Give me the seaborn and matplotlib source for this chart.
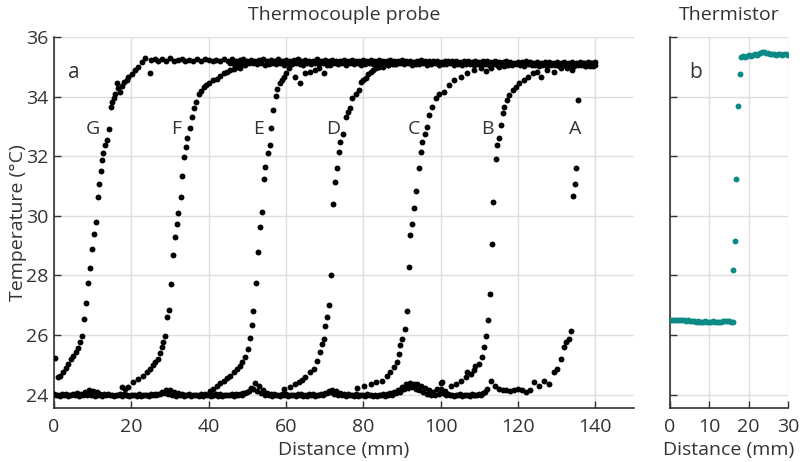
import numpy as np
import pandas as pd
import seaborn as sns
import matplotlib.pyplot as plt

# --- thermocouple probe: baseline band (two overlapping sweep rows, 1 mm steps) ---
base_x_a = np.arange(0, 124)
base_temp_a = [
    24.02, 24.00, 24.03, 24.01, 24.00, 24.02, 24.04, 24.03,
    24.10, 24.14, 24.12, 24.08,
    24.03, 24.01, 24.02, 24.00, 23.99, 24.01, 24.02, 24.00, 23.98, 24.00, 24.01, 23.99, 24.00, 24.02, 24.01, 24.03,
    24.08, 24.14, 24.16, 24.10,
    24.04, 24.02, 24.00, 24.01, 23.99, 24.00, 24.02, 24.01, 23.99, 24.00, 24.02, 24.01, 24.00, 23.99, 24.01, 24.03, 24.02, 24.05,
    24.10, 24.22, 24.40, 24.30, 24.15, 24.06,
    24.03, 24.01, 24.00, 24.02, 24.01, 23.99, 24.00, 24.02, 24.01, 24.00, 24.02, 24.01, 24.00, 24.03, 24.06,
    24.12, 24.17, 24.12, 24.06,
    24.03, 24.01, 24.00, 24.02, 23.99, 24.00, 24.01, 23.99, 23.98, 24.00, 24.01, 24.02, 24.04, 24.08, 24.14,
    24.25, 24.35, 24.38, 24.34, 24.36, 24.30, 24.22, 24.15, 24.08,
    24.20, 24.38, 24.12,
    24.03, 24.00, 23.99, 24.01, 23.98, 24.00, 24.02, 23.99, 24.01, 24.04, 24.20,
    24.45, 24.28,
    24.18, 24.14, 24.16, 24.12, 24.15, 24.20, 24.14, 24.10, 24.16,
]
base_x_b = np.arange(0.5, 112, 1.0)
base_temp_b = [
    23.97, 23.95, 23.98, 23.96, 23.97, 23.99, 23.96, 23.98, 24.00, 23.97,
    23.96, 23.98, 23.95, 23.97, 23.99, 23.96, 23.97, 23.95, 23.98, 23.96,
    23.97, 23.95, 23.96, 23.98, 23.96, 23.97, 23.99, 24.02, 24.05, 24.03,
    23.99, 23.96, 23.97, 23.95, 23.98, 23.96, 23.97, 23.95, 23.96, 23.98,
    23.96, 23.97, 23.95, 23.96, 23.98, 23.97, 23.96, 23.98, 24.00, 24.05,
    24.12, 24.20, 24.12, 24.04, 23.99, 23.97, 23.96, 23.98, 23.96, 23.97,
    23.95, 23.97, 23.96, 23.98, 23.96, 23.95, 23.97, 23.96, 23.98, 24.00,
    24.04, 24.08, 24.03, 23.99, 23.97, 23.96, 23.98, 23.96, 23.95, 23.97,
    23.96, 23.98, 23.96, 23.95, 23.97, 23.96, 23.98, 24.00, 24.04, 24.10,
    24.18, 24.22, 24.26, 24.20, 24.14, 24.08, 24.03, 24.00, 23.98, 24.02,
    24.06, 24.00, 23.97, 23.96, 23.98, 23.95, 23.97, 23.96, 23.98, 23.97,
    24.00, 24.08,
]

# --- plateau band ---
plat_x_a = np.arange(25, 141)
plat_temp_a = [
    35.22, 35.27, 35.18, 35.25, 35.21, 35.28, 35.19, 35.24, 35.26, 35.20,
    35.23, 35.18, 35.25, 35.21, 35.27, 35.22, 35.19, 35.24, 35.20, 35.26,
    35.21, 35.25, 35.19, 35.23, 35.27, 35.20, 35.24, 35.18, 35.22, 35.25,
    35.20, 35.23, 35.19, 35.26, 35.21, 35.24, 35.18, 35.22, 35.25, 35.20,
    35.23, 35.19, 35.21, 35.25, 35.20, 35.22, 35.18, 35.24, 35.21, 35.19,
    35.22, 35.20, 35.24, 35.19, 35.21, 35.23, 35.18, 35.22, 35.20, 35.24,
    35.19, 35.21, 35.23, 35.18, 35.20, 35.22, 35.19, 35.21, 35.17, 35.20,
    35.22, 35.18, 35.20, 35.19, 35.21, 35.17, 35.20, 35.18, 35.21, 35.19,
    35.17, 35.20, 35.18, 35.16, 35.19, 35.17, 35.20, 35.18, 35.16, 35.19,
    35.17, 35.15, 35.18, 35.16, 35.14, 35.17, 35.15, 35.18, 35.16, 35.14,
    35.16, 35.14, 35.17, 35.15, 35.13, 35.16, 35.14, 35.15, 35.13, 35.16,
    35.14, 35.16, 35.13, 35.15, 35.14, 35.16,
]
plat_x_b = np.arange(45.5, 140, 1.0)
plat_temp_b = [
    35.12, 35.08, 35.14, 35.10, 35.06, 35.11, 35.13, 35.09, 35.12, 35.07,
    35.10, 35.13, 35.08, 35.11, 35.06, 35.12, 35.09, 35.14, 35.10, 35.07,
    35.11, 35.08, 35.13, 35.09, 35.12, 35.06, 35.10, 35.13, 35.08, 35.11,
    35.07, 35.12, 35.09, 35.11, 35.06, 35.10, 35.13, 35.08, 35.11, 35.09,
    35.12, 35.07, 35.10, 35.08, 35.13, 35.09, 35.11, 35.06, 35.10, 35.08,
    35.11, 35.07, 35.09, 35.12, 35.06, 35.10, 35.08, 35.11, 35.07, 35.09,
    35.06, 35.10, 35.08, 35.05, 35.09, 35.07, 35.10, 35.06, 35.08, 35.05,
    35.08, 35.04, 35.07, 35.05, 35.09, 35.06, 35.04, 35.08, 35.05, 35.07,
    35.04, 35.06, 35.03, 35.07, 35.05, 35.02, 35.06, 35.04, 35.07, 35.03,
    35.05, 35.08, 35.04, 35.06, 35.03,
]

# --- transitions of each sweep (A-G) ---
g_x = [0.3, 1.1, 1.6, 2.4, 3.0, 3.7, 4.3, 5.0, 5.6, 6.3, 6.8, 7.2, 7.7, 8.2, 8.7, 9.2, 9.8, 10.3,
       10.8, 11.3, 11.7, 12.1, 12.4, 12.8, 13.2, 13.8, 14.3, 14.7, 14.9, 15.4, 15.8, 16.2, 16.6,
       17.1, 17.6, 18.2, 18.8, 19.2, 20.1, 21.0, 21.8, 22.7, 23.6, 24.9]
g_temp = [25.24, 24.58, 24.62, 24.75, 24.90, 25.04, 25.18, 25.31, 25.42, 25.55, 25.75, 25.98,
          26.52, 27.07, 27.74, 28.25, 28.87, 29.38, 29.79, 30.63, 31.08, 31.50, 31.87, 32.10,
          32.37, 32.54, 32.90, 33.64, 33.83, 33.94, 34.10, 34.44, 34.30, 34.16, 34.35, 34.50,
          34.55, 34.67, 34.75, 34.90, 35.00, 35.17, 35.28, 34.78]

f_x = [17.5, 18.3, 19.2, 20.5, 21.8, 23.1, 24.0, 24.9, 25.6, 26.2, 27.0, 27.5, 27.9, 28.3, 28.8,
       29.2, 29.7, 30.2, 30.7, 31.2, 31.7, 32.2, 32.8, 33.2, 33.7, 34.1, 34.4, 35.1, 35.7, 36.3,
       36.8, 37.4, 38.0, 38.7, 39.3, 40.0, 41.0, 42.1, 43.0, 43.9, 44.8, 45.6, 46.5, 47.3, 48.2, 49.0]
f_temp = [24.25, 24.20, 24.25, 24.42, 24.53, 24.64, 24.75, 24.87, 24.98, 25.09, 25.20, 25.40,
          25.59, 25.76, 25.98, 26.60, 26.85, 27.70, 28.67, 29.29, 29.71, 30.10, 30.63, 31.34,
          31.98, 32.31, 32.60, 32.93, 33.30, 33.60, 33.83, 34.10, 34.20, 34.33, 34.40, 34.44,
          34.55, 34.60, 34.70, 34.78, 34.82, 34.89, 34.92, 35.00, 34.95, 35.10]

e_x = [40.4, 41.2, 42.1, 43.0, 43.9, 44.8, 45.6, 46.5, 47.3, 48.0, 48.6, 49.5, 50.3, 50.8, 51.2,
       51.6, 52.2, 52.7, 53.2, 53.7, 54.2, 54.7, 55.3, 55.8, 56.1, 56.6, 57.3, 57.7, 58.4, 58.9,
       59.4, 60.0, 60.7, 61.1, 62.4, 63.7, 65.0, 66.3, 67.6, 68.5, 69.8, 71.5, 73.2]
e_temp = [24.13, 24.20, 24.30, 24.38, 24.47, 24.55, 24.64, 24.75, 24.86, 24.97, 25.09, 25.26,
          25.54, 25.90, 26.32, 26.82, 27.76, 28.78, 29.61, 30.13, 31.25, 31.64, 32.09, 32.37,
          32.96, 33.55, 34.02, 34.24, 34.44, 34.55, 34.67, 34.80, 34.95, 35.12, 34.67, 34.44,
          34.78, 34.84, 34.89, 34.95, 34.78, 35.06, 35.12]

d_x = [59.4, 61.1, 62.3, 63.3, 64.2, 65.0, 66.3, 67.2, 68.1, 68.7, 69.3, 69.8, 70.2, 70.6, 71.2,
       71.7, 72.2, 72.8, 73.2, 73.6, 74.1, 74.8, 75.4, 76.0, 76.5, 77.1, 78.0, 78.8, 79.3, 80.0,
       80.6, 81.3, 81.9, 82.5, 83.2, 84.0, 85.2, 86.5, 88.0]
d_temp = [24.19, 24.25, 24.35, 24.42, 24.50, 24.58, 24.75, 24.86, 25.14, 25.42, 25.70, 25.87,
          26.29, 26.62, 27.00, 28.02, 30.41, 31.14, 31.59, 32.14, 32.48, 32.74, 33.30, 33.49,
          33.60, 33.94, 34.10, 34.22, 34.50, 34.55, 34.61, 34.75, 34.84, 34.88, 34.95, 35.00,
          34.98, 35.05, 35.08]

c_x = [78.4, 80.1, 81.9, 83.2, 84.9, 86.2, 87.0, 87.9, 88.6, 89.2, 89.6, 90.1, 90.7, 91.2, 91.7,
       92.2, 92.7, 93.2, 93.7, 94.3, 94.8, 95.3, 95.9, 96.4, 97.0, 97.8, 98.7, 99.6, 100.9, 102.1,
       103.4, 105.2, 106.9, 108.6, 110.4, 111.7, 113.0, 115.0, 117.0]
c_temp = [24.23, 24.30, 24.36, 24.42, 24.47, 24.64, 24.75, 24.92, 25.09, 25.37, 25.65, 25.87,
          26.21, 26.80, 28.27, 29.37, 29.74, 30.26, 30.82, 31.60, 32.14, 32.48, 32.74, 32.99,
          33.38, 33.66, 33.94, 34.10, 34.16, 34.39, 34.55, 34.67, 34.78, 34.89, 34.95, 34.85,
          34.95, 35.00, 35.05]

b_x = [100.0, 100.4, 102.6, 103.9, 105.2, 106.5, 106.9, 107.8, 108.6, 109.0, 109.9, 110.8, 111.2,
       111.7, 112.2, 112.7, 113.2, 113.6, 114.2, 114.7, 115.1, 115.5, 116.0, 116.4, 117.1, 117.7,
       118.6, 119.4, 120.3, 121.6, 122.5, 123.8, 125.0, 125.9, 127.6, 129.4, 131.1, 132.8, 134.0]
b_temp = [24.19, 24.42, 24.30, 24.36, 24.47, 24.58, 24.75, 24.70, 24.81, 24.97, 25.03, 25.26,
          25.59, 25.98, 26.51, 27.36, 29.04, 30.46, 31.92, 32.37, 32.60, 33.04, 33.44, 33.66,
          33.88, 34.05, 34.22, 34.33, 34.44, 34.55, 34.67, 34.78, 34.84, 34.67, 34.89, 34.84,
          34.95, 34.95, 34.90]

a_x = [124.2, 125.5, 126.8, 128.1, 129.4, 130.2, 131.1, 131.9, 132.5, 133.1, 133.7, 134.2, 134.7,
       135.1, 135.6, 136.2, 136.8, 137.4, 138.0, 138.6, 139.2, 139.8]
a_temp = [24.42, 24.30, 24.47, 24.36, 24.75, 24.86, 25.20, 25.59, 25.75, 25.87, 26.15, 30.67,
          31.08, 31.59, 33.90, 35.05, 35.12, 35.02, 35.10, 35.04, 35.11, 35.06]

curve_labels = ["G", "F", "E", "D", "C", "B", "A"]
label_x = [10.1, 31.6, 52.8, 72.3, 93.0, 112.0, 134.7]

# --- thermistor ---
therm_base_x = np.arange(0, 16.5, 0.5)
therm_base_temp = [26.50, 26.50, 26.49, 26.50, 26.50, 26.49, 26.50, 26.49, 26.48, 26.49, 26.48,
                   26.47, 26.46, 26.45, 26.46, 26.45, 26.44, 26.45, 26.46, 26.45, 26.44, 26.45,
                   26.46, 26.44, 26.45, 26.43, 26.45, 26.46, 26.47, 26.48, 26.46, 26.44, 26.43]
therm_rise_x = [16.0, 16.5, 16.9, 17.4, 17.9]
therm_rise_temp = [28.19, 29.15, 31.23, 33.67, 34.76]
therm_top_x = np.arange(18.0, 30.5, 0.5)
therm_top_temp = [35.33, 35.35, 35.34, 35.36, 35.38, 35.37, 35.40, 35.42, 35.41, 35.44, 35.46,
                  35.48, 35.49, 35.47, 35.45, 35.43, 35.42, 35.43, 35.41, 35.42, 35.43, 35.41,
                  35.42, 35.43, 35.41]

probe = pd.concat([
    pd.DataFrame({"distance": base_x_a, "temp": base_temp_a}),
    pd.DataFrame({"distance": base_x_b, "temp": base_temp_b}),
    pd.DataFrame({"distance": plat_x_a, "temp": plat_temp_a}),
    pd.DataFrame({"distance": plat_x_b, "temp": plat_temp_b}),
    pd.DataFrame({"distance": g_x, "temp": g_temp}),
    pd.DataFrame({"distance": f_x, "temp": f_temp}),
    pd.DataFrame({"distance": e_x, "temp": e_temp}),
    pd.DataFrame({"distance": d_x, "temp": d_temp}),
    pd.DataFrame({"distance": c_x, "temp": c_temp}),
    pd.DataFrame({"distance": b_x, "temp": b_temp}),
    pd.DataFrame({"distance": a_x, "temp": a_temp}),
], ignore_index=True)

thermistor = pd.concat([
    pd.DataFrame({"distance": therm_base_x, "temp": therm_base_temp}),
    pd.DataFrame({"distance": therm_rise_x, "temp": therm_rise_temp}),
    pd.DataFrame({"distance": therm_top_x, "temp": therm_top_temp}),
], ignore_index=True)

sns.set_theme(style="ticks")
plt.rcParams["font.family"] = ["Open Sans", "DejaVu Sans"]
text_col = "#333333"
plt.rcParams.update({
    "text.color": text_col, "axes.labelcolor": text_col,
    "xtick.color": text_col, "ytick.color": text_col,
    "axes.edgecolor": text_col,
})

fig = plt.figure(figsize=(8.02, 4.62), dpi=100)
ax1 = fig.add_axes([0.0673, 0.1169, 0.7232, 0.8031])
ax2 = fig.add_axes([0.8354, 0.1169, 0.1471, 0.8031])

for ax in (ax1, ax2):
    ax.grid(True, color="#dedede", linewidth=1)
    ax.set_axisbelow(True)
    ax.spines["top"].set_visible(False)
    ax.spines["right"].set_visible(False)
    ax.spines["left"].set_linewidth(1.2)
    ax.spines["bottom"].set_linewidth(1.2)
    ax.tick_params(direction="in", length=5, width=1, labelsize=14)
    ax.tick_params(axis="x", pad=7)
    ax.tick_params(axis="y", pad=4)
    ax.set_ylim(23.55, 36)
    ax.set_yticks(range(24, 37, 2))

sns.scatterplot(data=probe, x="distance", y="temp", ax=ax1, color="black",
                s=18, linewidth=0, zorder=3)
ax1.set_xlim(0, 150)
ax1.set_xticks(range(0, 141, 20))
ax1.set_xlabel("Distance (mm)", fontsize=14, labelpad=4)
ax1.set_ylabel("Temperature (°C)", fontsize=14, labelpad=-1)
ax1.set_title("Thermocouple probe", fontsize=14, pad=12)
ax1.text(0.025, 0.905, "a", transform=ax1.transAxes, fontsize=15, va="center")
for lab, lx in zip(curve_labels, label_x):
    ax1.text(lx, 32.9, lab, fontsize=14, ha="center", va="center")

sns.scatterplot(data=thermistor, x="distance", y="temp", ax=ax2, color="#0b8a86",
                s=18, linewidth=0, zorder=3)
ax2.set_xlim(0, 30)
ax2.set_xticks([0, 10, 20, 30])
ax2.set_yticklabels([])
ax2.set_xlabel("Distance (mm)", fontsize=14, labelpad=4)
ax2.set_ylabel("")
ax2.set_title("Thermistor", fontsize=14, pad=12)
ax2.text(0.16, 0.905, "b", transform=ax2.transAxes, fontsize=15, va="center")

fig.savefig("out.png", dpi=100)
